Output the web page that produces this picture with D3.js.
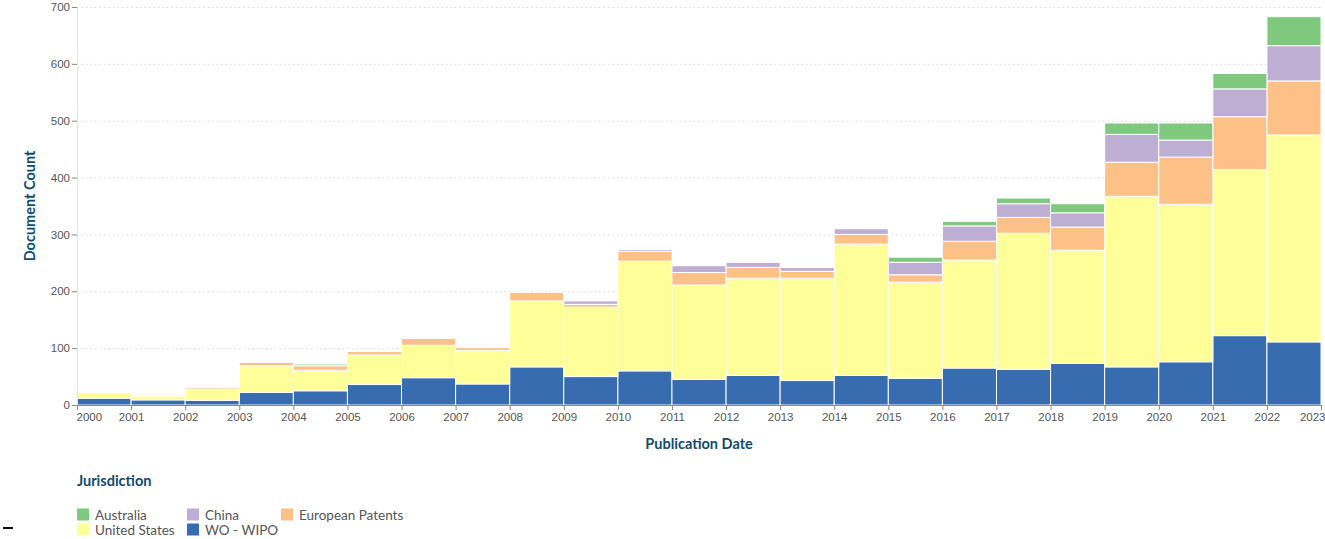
<!DOCTYPE html>
<html>
<head>
<meta charset="utf-8">
<script src="https://cdn.jsdelivr.net/npm/d3@7"></script>
<style>
  body { margin: 0; background: #fff; }
  svg { font-family: Lato, "Open Sans", sans-serif; }
  .grid line { stroke: #cfd8e4; stroke-dasharray: 1.5 3; }
  .grid path { display: none; }
  .axis text { fill: #555; font-size: 11.5px; }
  .axis line { stroke: #888; }
</style>
</head>
<body>
<svg id="chart"></svg>
<script>
// bins start at these years, each bar runs to the next year
var years = [2000, 2001, 2002, 2003, 2004, 2005, 2006, 2007, 2008, 2009, 2010, 2011,
             2012, 2013, 2014, 2015, 2016, 2017, 2018, 2019, 2020, 2021, 2022]
var tickYears = d3.range(2000, 2024)
var yTicks = [0, 100, 200, 300, 400, 500, 600, 700]

var wipo      = [12, 9, 8, 22, 25, 36, 48, 37, 67, 50, 60, 45, 52, 43, 52, 47, 65, 63, 73, 67, 76, 122, 111]
var usa       = [10, 7, 20, 47, 36, 52, 57, 59, 116, 122, 193, 166, 171, 180, 231, 169, 190, 239, 199, 300, 277, 292, 364]
var europe    = [1, 2, 3, 6, 8, 6, 12, 5, 15, 5, 17, 22, 19, 12, 17, 13, 33, 28, 41, 60, 83, 93, 95]
var china     = [0, 0, 0, 0, 0, 0, 2, 2, 0, 6, 3, 12, 9, 7, 10, 22, 27, 24, 25, 49, 30, 49, 62]
var australia = [0, 0, 0, 0, 3, 0, 0, 0, 0, 0, 0, 0, 1, 0, 0, 9, 8, 10, 16, 20, 30, 27, 51]

var stackKeys = ["WO - WIPO", "United States", "European Patents", "China", "Australia"]
var legendKeys = ["Australia", "China", "European Patents", "United States", "WO - WIPO"]
var colors = {
    "Australia": "#7fc97f",
    "China": "#beaed4",
    "European Patents": "#fdc086",
    "United States": "#ffff99",
    "WO - WIPO": "#386cb0"
}

var rows = years.map(function (y, i) {
    return {
        year: y,
        "WO - WIPO": wipo[i],
        "United States": usa[i],
        "European Patents": europe[i],
        "China": china[i],
        "Australia": australia[i]
    }
})

var W = 1325, H = 539
var margin = {top: 7, right: 4, bottom: 134, left: 77}
var width = W - margin.left - margin.right
var height = H - margin.top - margin.bottom

var svg = d3.select("#chart").attr("width", W).attr("height", H)
var chart = svg.append("g")
    .attr("transform", "translate(" + margin.left + "," + margin.top + ")")

var x = d3.scaleLinear().domain([2000, 2023]).range([0, width])
var y = d3.scaleLinear().domain([0, 700]).range([height, 0])

// grid
chart.append("g")
    .attr("class", "grid")
    .call(d3.axisLeft(y).tickValues(yTicks.slice(1)).tickSize(-width).tickFormat(""))

// bars
var series = d3.stack().keys(stackKeys)(rows)
chart.selectAll(".layer")
    .data(series)
    .enter()
    .append("g")
    .attr("class", "layer")
    .attr("fill", function (d) { return colors[d.key] })
    .selectAll("rect")
    .data(function (d) { return d })
    .enter()
    .append("rect")
        .attr("x", function (d) { return x(d.data.year) })
        .attr("width", function (d) { return x(d.data.year + 1) - x(d.data.year) })
        .attr("y", function (d) { return y(d[1]) })
        .attr("height", function (d) { return y(d[0]) - y(d[1]) })
        .attr("stroke", "#fff")
        .attr("stroke-width", 1)
        .attr("stroke-opacity", function (d) { return d[1] > d[0] ? 1 : 0 })

// y axis
var yAxis = chart.append("g")
    .attr("class", "axis")
    .call(d3.axisLeft(y).tickValues(yTicks).tickSize(5).tickPadding(2))
yAxis.select(".domain").attr("stroke", "#dce6f2")

// x axis
var xAxis = chart.append("g")
    .attr("class", "axis")
    .attr("transform", "translate(0," + height + ")")
    .call(d3.axisBottom(x).tickValues(tickYears).tickFormat(d3.format("d")).tickSize(5).tickPadding(3))
xAxis.select(".domain").attr("stroke", "#888").attr("stroke-width", 1)
xAxis.selectAll(".tick text")
    .attr("text-anchor", function (d) {
        if (d === 2000) return "start"
        if (d === 2023) return "end"
        return "middle"
    })
    .attr("dx", function (d) { return d === 2000 ? -1 : (d === 2023 ? 4 : 0) })

// axis titles
svg.append("text")
    .attr("transform", "translate(35," + (margin.top + height / 2) + ") rotate(-90)")
    .attr("text-anchor", "middle")
    .attr("fill", "#0f4c6e")
    .attr("font-size", 14.5)
    .attr("font-weight", "bold")
    .text("Document Count")

svg.append("text")
    .attr("x", 699)
    .attr("y", 449)
    .attr("text-anchor", "middle")
    .attr("fill", "#0f4c6e")
    .attr("font-size", 14.5)
    .attr("font-weight", "bold")
    .text("Publication Date")

// legend
var legend = svg.append("g").attr("transform", "translate(77,0)")
legend.append("text")
    .attr("x", 0)
    .attr("y", 486)
    .attr("fill", "#0f4c6e")
    .attr("font-size", 14.5)
    .attr("font-weight", "bold")
    .text("Jurisdiction")

var colX = [0, 110, 204]
var item = legend.selectAll(".item")
    .data(legendKeys)
    .enter()
    .append("g")
    .attr("class", "item")
    .attr("transform", function (d, i) {
        return "translate(" + colX[i % 3] + "," + (514.5 + Math.floor(i / 3) * 15) + ")"
    })
item.append("rect")
    .attr("x", 0).attr("y", -6).attr("width", 12).attr("height", 12)
    .attr("fill", function (d) { return colors[d] })
item.append("text")
    .attr("x", 18)
    .attr("y", 5)
    .attr("fill", "#555")
    .attr("font-size", 13.5)
    .text(function (d) { return d })

// small dash at the lower left
svg.append("rect")
    .attr("x", 3).attr("y", 527).attr("width", 10).attr("height", 2)
    .attr("fill", "#111")
</script>
</body>
</html>
